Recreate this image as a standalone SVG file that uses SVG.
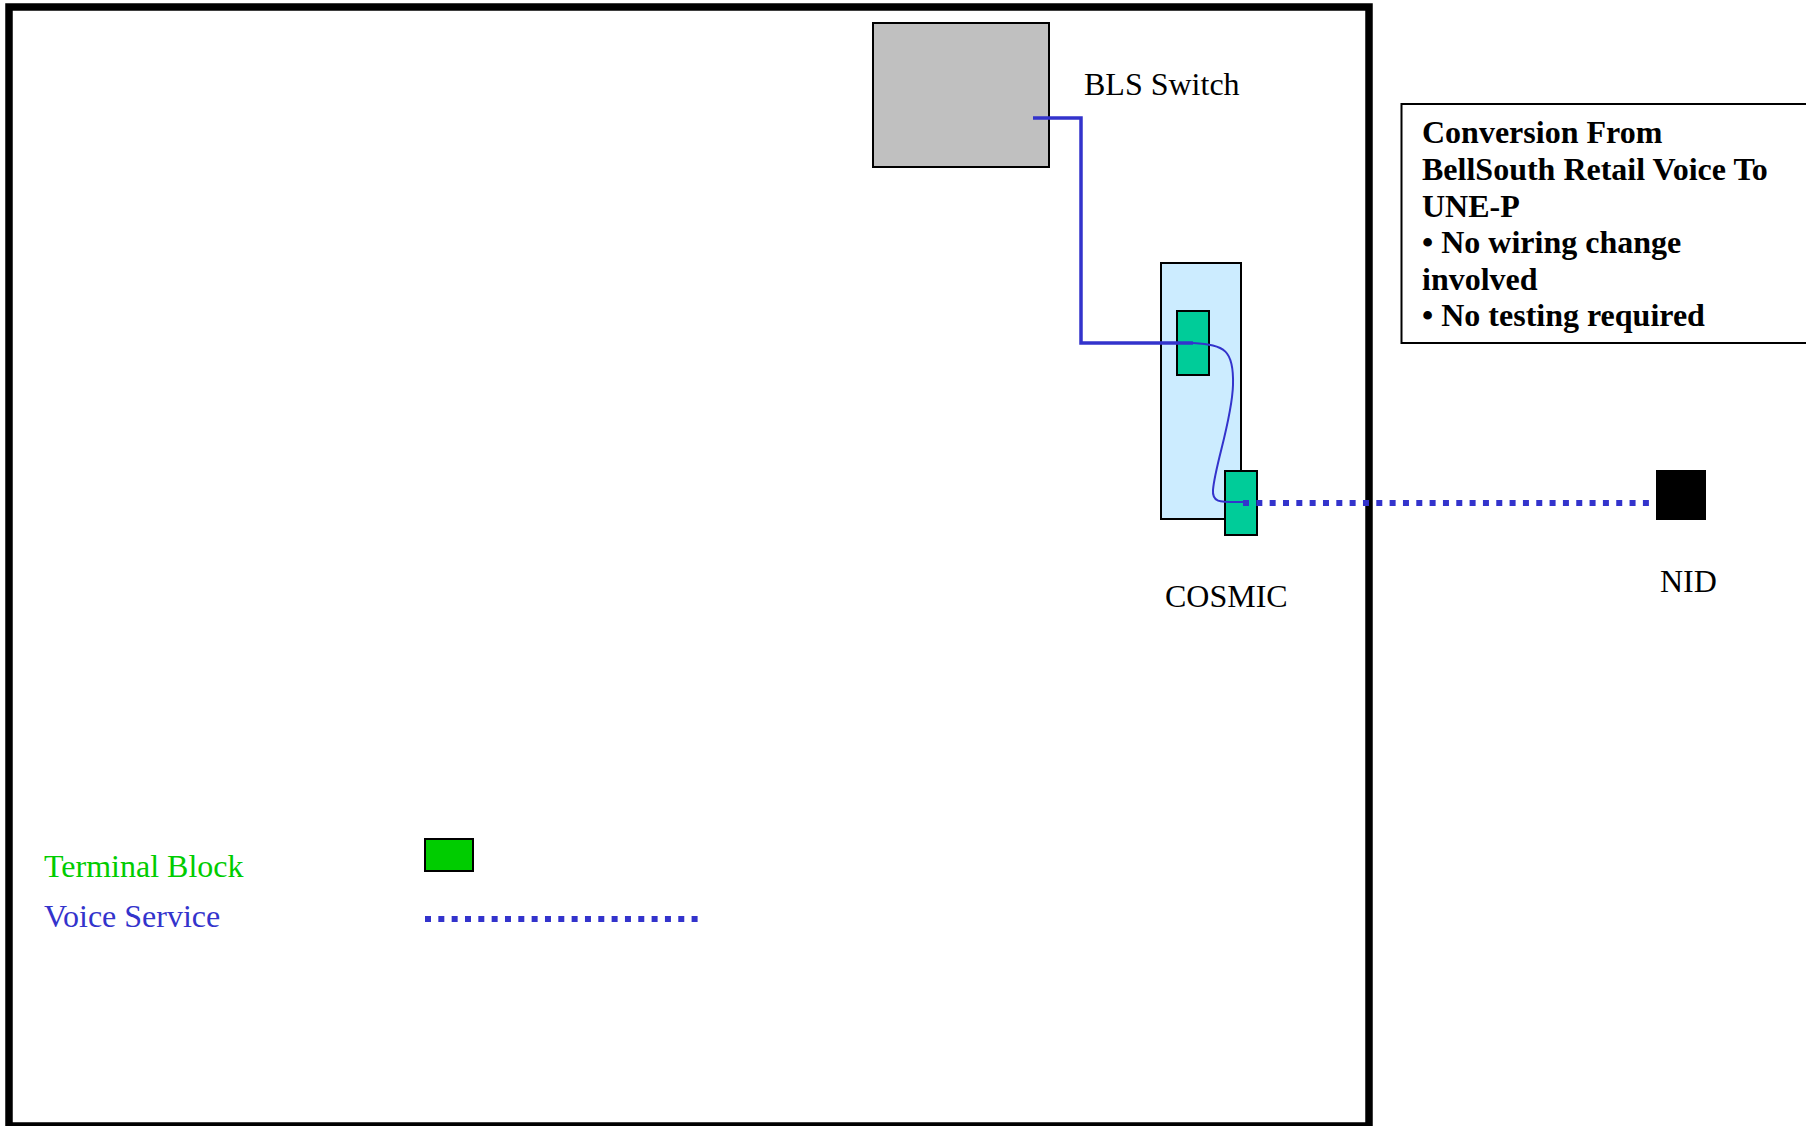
<svg xmlns="http://www.w3.org/2000/svg" width="1806" height="1126" viewBox="0 0 1806 1126">
<style>
.lbl{font-family:"Liberation Serif","Times New Roman",serif;font-size:32px;fill:#000}
.bold{font-family:"Liberation Serif","Times New Roman",serif;font-size:32px;font-weight:bold;fill:#000}
.tb{fill:#00CC99;stroke:#000;stroke-width:2}
.solid{fill:none;stroke:#3333CC;stroke-width:3.5}
.dots{fill:none;stroke:#3333CC;stroke-width:6;stroke-dasharray:6 7.33}
</style>
<rect width="1806" height="1126" fill="#fff"/>
<g id="frame"><rect x="9" y="7" width="1360" height="1119" fill="none" stroke="#000" stroke-width="7.5"/></g>
<g id="bls-switch">
<rect x="873" y="23" width="176" height="144" fill="#C0C0C0" stroke="#000" stroke-width="2"/>
<text class="lbl" x="1084" y="95">BLS Switch</text>
</g>
<g id="cosmic">
<rect x="1161" y="263" width="80" height="256" fill="#CCECFF" stroke="#000" stroke-width="2"/>
<rect class="tb" x="1177" y="311" width="32" height="64"/>
<rect class="tb" x="1225" y="471" width="32" height="64"/>
<text class="lbl" x="1165" y="607">COSMIC</text>
</g>
<g id="nid">
<rect x="1656" y="470" width="50" height="50" fill="#000"/>
<text class="lbl" x="1660" y="592">NID</text>
</g>
<g id="note">
<rect x="1401.5" y="104" width="420" height="239" fill="#fff" stroke="#000" stroke-width="2"/>
<text class="bold" x="1422" y="143">Conversion From</text>
<text class="bold" x="1422" y="180">BellSouth Retail Voice To</text>
<text class="bold" x="1422" y="216.5">UNE-P</text>
<text class="bold" x="1422" y="253">• No wiring change</text>
<text class="bold" x="1422" y="290">involved</text>
<text class="bold" x="1422" y="326">• No testing required</text>
</g>
<g id="legend">
<text x="44" y="877" font-family="Liberation Serif, Times New Roman, serif" font-size="32" fill="#00CC00">Terminal Block</text>
<rect x="425" y="839" width="48" height="32" fill="#00CC00" stroke="#000" stroke-width="2"/>
<text x="44" y="927" font-family="Liberation Serif, Times New Roman, serif" font-size="32" fill="#3333CC">Voice Service</text>
<line class="dots" x1="425" y1="919" x2="698" y2="919"/>
</g>
<g id="connectors">
<polyline class="solid" points="1033,118 1081,118 1081,343 1193,343"/>
<path d="M1193,343 C1225,345 1234,350 1233,385 C1232,420 1215,465 1213,490 C1212,503 1220,502 1243,502" fill="none" stroke="#3333CC" stroke-width="2"/>
<line class="dots" x1="1243" y1="503" x2="1656" y2="503"/>
</g>
</svg>
